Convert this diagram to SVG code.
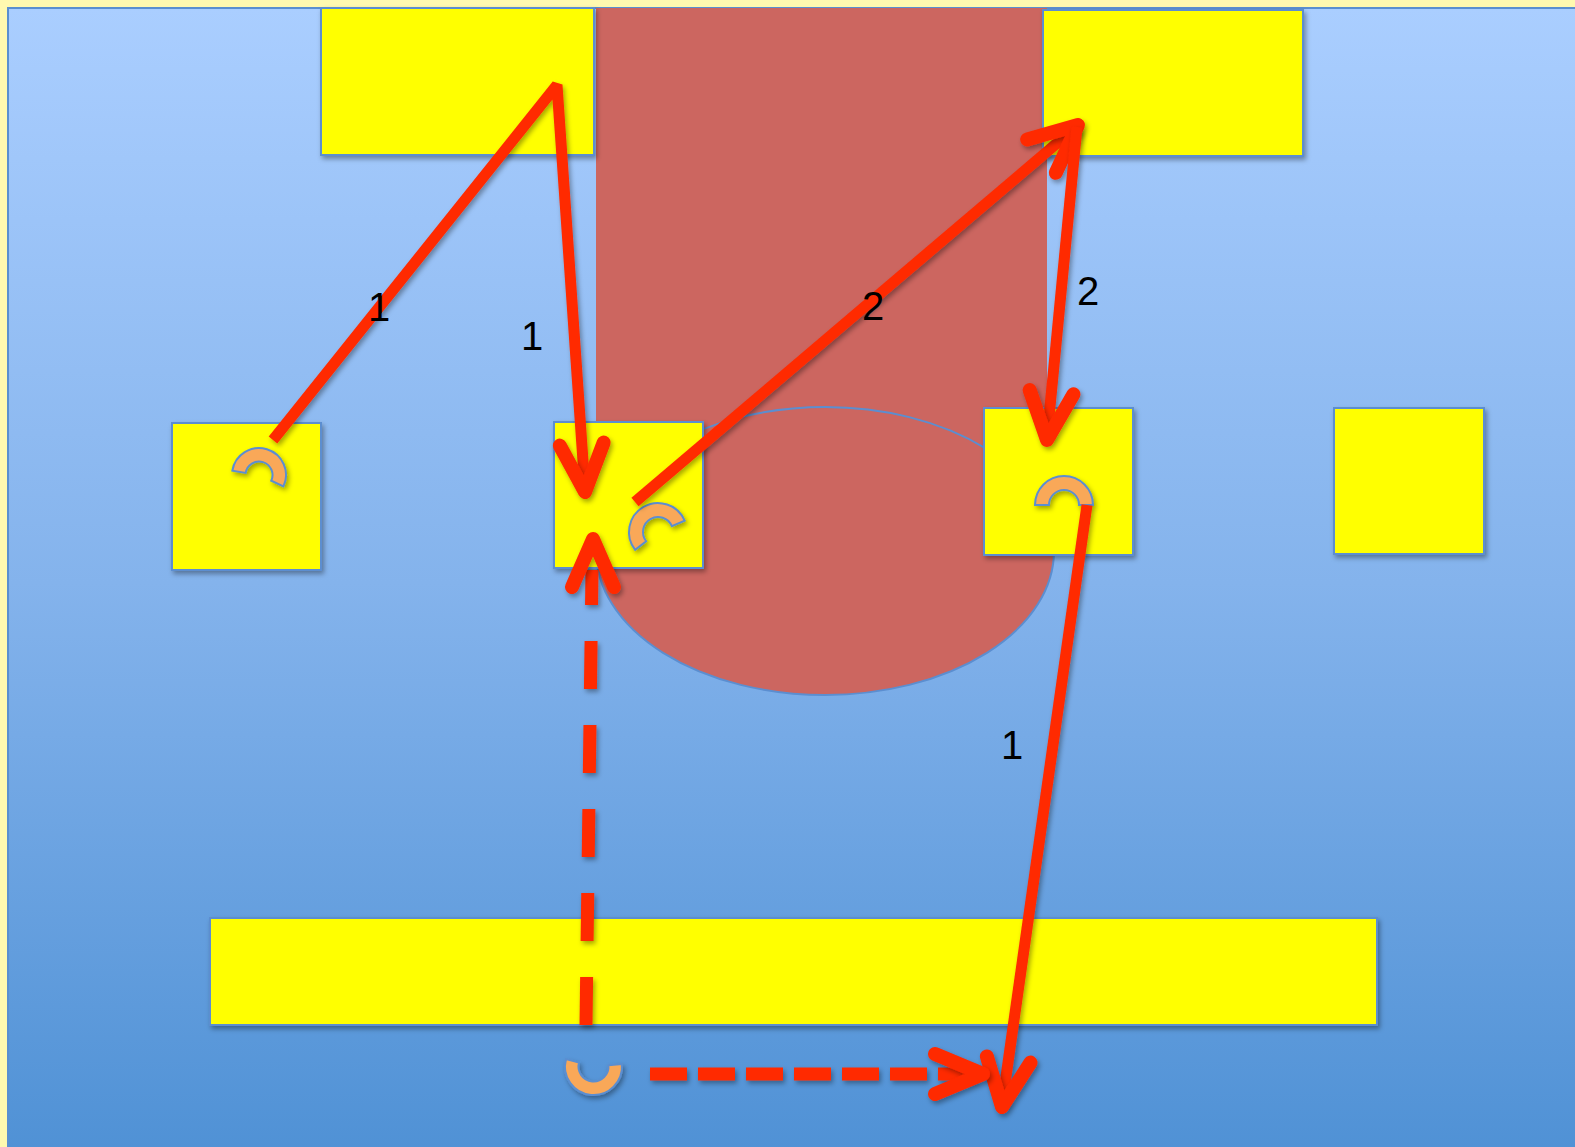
<svg xmlns="http://www.w3.org/2000/svg" width="1575" height="1147" viewBox="0 0 1575 1147">
  <defs>
    <linearGradient id="bg" x1="0" y1="0" x2="0" y2="1">
      <stop offset="0" stop-color="#AACEFF"/>
      <stop offset="0.5" stop-color="#84B3EC"/>
      <stop offset="1" stop-color="#4F91D5"/>
    </linearGradient>
    <filter id="sh" filterUnits="userSpaceOnUse" x="0" y="0" width="1575" height="1147">
      <feDropShadow dx="2" dy="3" stdDeviation="2.5" flood-color="#000" flood-opacity="0.35"/>
    </filter>
  </defs>
  <style>
    .box { fill: #FFFF00; stroke: #5B8ED0; stroke-width: 2; filter: url(#sh); }
    .arc { fill: #F9A858; stroke: #5B8ED0; stroke-width: 2; filter: url(#sh); }
    .ln { fill: none; stroke: #FF2A00; stroke-width: 11; filter: url(#sh); }
    .dash { fill: none; stroke: #FF2A00; stroke-width: 13; filter: url(#sh); }
    .head { fill: none; stroke: #FF2A00; stroke-width: 14; stroke-linecap: round; stroke-linejoin: round; filter: url(#sh); }
    .lbl { font-family: "Liberation Sans", Arial, sans-serif; font-size: 40px; fill: #000; text-anchor: middle; }
  </style>

  <g id="background">
    <rect x="0" y="0" width="1575" height="1147" fill="#FFF9B0"/>
    <rect x="8" y="8" width="1580" height="1150" fill="url(#bg)" stroke="#5A8FD0" stroke-width="2"/>
  </g>

  <g id="cylinder">
    <rect x="596" y="8" width="451" height="543" fill="#CC6660"/>
    <ellipse cx="825" cy="551" rx="229" ry="144" fill="#CC6660" stroke="#5B8ED0" stroke-width="2"/>
  </g>

  <g id="box-top-left"><rect class="box" x="321" y="8" width="273" height="147"/></g>
  <g id="box-top-right"><rect class="box" x="1043" y="10" width="260" height="146"/></g>
  <g id="box-a">
    <rect class="box" x="172" y="423" width="149" height="147"/>
    <path class="arc" d="M232.33,470.78 A27,27 0 1 1 283.47,486.41 L271.24,480.71 A13.5,13.5 0 1 0 245.67,472.89 Z"/>
  </g>
  <g id="box-b">
    <rect class="box" x="554" y="422" width="149" height="146"/>
    <path class="arc" d="M635.15,549.86 A29,29 0 1 1 684.69,520.67 L671.81,526.14 A15,15 0 1 0 646.18,541.24 Z"/>
  </g>
  <g id="box-c">
    <rect class="box" x="984" y="408" width="149" height="147"/>
    <path class="arc" d="M1035,505 A29,29 0 0 1 1093,505 L1079,505 A15,15 0 0 0 1049,505 Z"/>
  </g>
  <g id="box-d"><rect class="box" x="1334" y="408" width="150" height="146"/></g>
  <g id="bar-bottom"><rect class="box" x="210" y="918" width="1167" height="107"/></g>
  <g id="marker-bottom">
    <path class="arc" stroke="none" d="M621.89,1064.02 A28.5,28.5 0 1 1 565.97,1059.12 L579.01,1062.62 A15,15 0 1 0 608.44,1065.19 Z"/>
  </g>

  <g id="connectors">
    <polyline class="ln" stroke-linejoin="bevel" points="273,440 557,85 585,490"/>
    <polyline class="head" points="559.8,445.6 585,492 603.7,442.6"/>
    <line class="ln" x1="635" y1="502" x2="1076" y2="127"/>
    <polyline class="head" points="1027.2,139.4 1078,125 1055.8,172.8"/>
    <line class="ln" x1="1077" y1="127" x2="1047" y2="438"/>
    <polyline class="head" points="1029.7,390.1 1047,440 1073.5,394.3"/>
    <line class="ln" x1="1087" y1="505" x2="1002" y2="1105"/>
    <polyline class="head" points="986.9,1056.4 1002,1107 1030.5,1062.6"/>
    <line class="dash" x1="586" y1="1025" x2="592" y2="570" stroke-dasharray="48 36"/>
    <polyline class="head" points="572,587 593,539 614,587"/>
    <line class="dash" x1="650" y1="1074" x2="976" y2="1074" stroke-dasharray="37 11"/>
    <polyline class="head" points="935,1054 983,1074 935,1094"/>
  </g>

  <g id="labels">
    <text class="lbl" x="379" y="321">1</text>
    <text class="lbl" x="532" y="350">1</text>
    <text class="lbl" x="873" y="320">2</text>
    <text class="lbl" x="1088" y="305">2</text>
    <text class="lbl" x="1012" y="759">1</text>
  </g>
</svg>
